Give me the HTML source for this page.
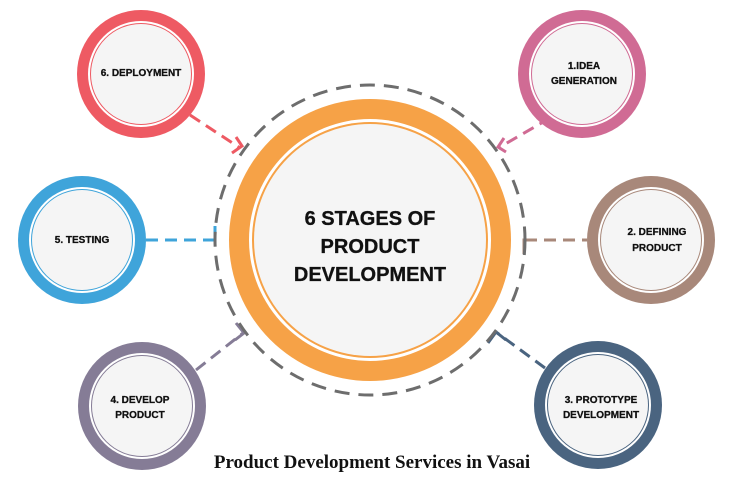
<!DOCTYPE html>
<html><head><style>
html,body{margin:0;padding:0;background:#fff;width:740px;height:480px;overflow:hidden}
svg{display:block}
.t{font-family:"Liberation Sans",Arial,sans-serif;font-weight:bold;fill:#111}
.s{stroke:#111;stroke-width:0.3}
</style></head><body>
<svg width="740" height="480" viewBox="0 0 740 480" xmlns="http://www.w3.org/2000/svg">
<g fill="none" stroke-width="3">
  <line x1="190" y1="115" x2="240" y2="148" stroke="#ee5a63" stroke-dasharray="12 7"/>
  <polyline points="232,153 242,146 236,137" stroke="#ee5a63"/>
  <line x1="550" y1="118" x2="500" y2="147" stroke="#d06b94" stroke-dasharray="12 7"/>
  <polyline points="506,152 498,147 504,138" stroke="#d06b94"/>
  <line x1="146" y1="240" x2="216" y2="240" stroke="#3fa4da" stroke-dasharray="12 7"/>
  <polyline points="205,240 215,240 215,226" stroke="#3fa4da"/>
  <line x1="525" y1="240" x2="587" y2="240" stroke="#a8887a" stroke-dasharray="12 7"/>
  <polyline points="524,254 524,240 535,240" stroke="#a8887a"/>
  <line x1="196" y1="370" x2="243" y2="333" stroke="#857c96" stroke-dasharray="12 7"/>
  <polyline points="236,323 244,333 235,340" stroke="#857c96"/>
  <line x1="545" y1="368" x2="496" y2="332" stroke="#4a6480" stroke-dasharray="12 7"/>
  <polyline points="488,343 496,332 506,340" stroke="#4a6480"/>
</g>
<circle cx="370" cy="240" r="155" fill="none" stroke="#6d6d6d" stroke-width="3" stroke-dasharray="15 9"/>
<circle cx="370" cy="240" r="141" fill="#f6a247"/>
<circle cx="370" cy="240" r="121" fill="#fff"/>
<circle cx="370" cy="240" r="118" fill="#f6a247"/>
<circle cx="370" cy="240" r="116" fill="#f5f5f5"/>
<text class="t s" x="370" y="225" font-size="20" text-anchor="middle">6 STAGES OF</text>
<text class="t s" x="370" y="253" font-size="20" text-anchor="middle">PRODUCT</text>
<text class="t s" x="370" y="281" font-size="20" text-anchor="middle">DEVELOPMENT</text>
<g>
  <circle cx="141" cy="74" r="64" fill="#ee5a63"/><circle cx="141" cy="74" r="53" fill="#fff"/><circle cx="141" cy="74" r="51" fill="#ee5a63"/><circle cx="141" cy="74" r="50" fill="#f5f5f5"/>
  <text class="t s" x="141" y="76" font-size="10" text-anchor="middle">6. DEPLOYMENT</text>

  <circle cx="582" cy="74" r="64" fill="#d06b94"/><circle cx="582" cy="74" r="53" fill="#fff"/><circle cx="582" cy="74" r="51" fill="#d06b94"/><circle cx="582" cy="74" r="50" fill="#f5f5f5"/>
  <text class="t s" x="584" y="69" font-size="10" text-anchor="middle">1.IDEA</text>
  <text class="t s" x="584" y="84" font-size="10" text-anchor="middle">GENERATION</text>

  <circle cx="82" cy="240" r="64" fill="#3fa4da"/><circle cx="82" cy="240" r="53" fill="#fff"/><circle cx="82" cy="240" r="51" fill="#3fa4da"/><circle cx="82" cy="240" r="50" fill="#f5f5f5"/>
  <text class="t s" x="82" y="243" font-size="10" text-anchor="middle">5. TESTING</text>

  <circle cx="651" cy="240" r="64" fill="#a8887a"/><circle cx="651" cy="240" r="53" fill="#fff"/><circle cx="651" cy="240" r="51" fill="#a8887a"/><circle cx="651" cy="240" r="50" fill="#f5f5f5"/>
  <text class="t s" x="657" y="235" font-size="10" text-anchor="middle">2. DEFINING</text>
  <text class="t s" x="657" y="251" font-size="10" text-anchor="middle">PRODUCT</text>

  <circle cx="142" cy="406" r="64" fill="#857c96"/><circle cx="142" cy="406" r="53" fill="#fff"/><circle cx="142" cy="406" r="51" fill="#857c96"/><circle cx="142" cy="406" r="50" fill="#f5f5f5"/>
  <text class="t s" x="140" y="403" font-size="10" text-anchor="middle">4. DEVELOP</text>
  <text class="t s" x="140" y="418" font-size="10" text-anchor="middle">PRODUCT</text>

  <circle cx="598" cy="405" r="64" fill="#4a6480"/><circle cx="598" cy="405" r="53" fill="#fff"/><circle cx="598" cy="405" r="51" fill="#4a6480"/><circle cx="598" cy="405" r="50" fill="#f5f5f5"/>
  <text class="t s" x="601" y="403" font-size="10" text-anchor="middle">3. PROTOTYPE</text>
  <text class="t s" x="601" y="418" font-size="10" text-anchor="middle">DEVELOPMENT</text>
</g>
<text x="372" y="468" font-family="'Liberation Serif',serif" font-weight="bold" font-size="19" fill="#111" text-anchor="middle">Product Development Services in Vasai</text>
</svg>
</body></html>
